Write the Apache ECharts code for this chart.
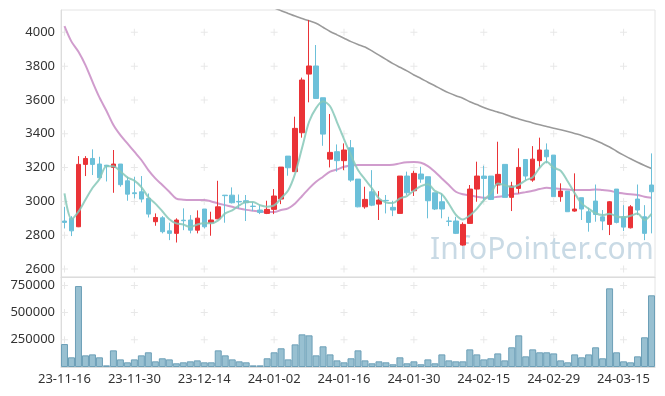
<!DOCTYPE html>
<html><head><meta charset="utf-8">
<script src="https://cdn.jsdelivr.net/npm/echarts@6/dist/echarts.min.js"></script>
<style>html,body{margin:0;padding:0;background:#fff}#c{width:665px;height:396px}</style>
</head><body><div id="c"></div>
<script>
var dates = ["23-11-16","23-11-17","23-11-20","23-11-21","23-11-22","23-11-23","23-11-24","23-11-27","23-11-28","23-11-29",
"23-11-30","23-12-01","23-12-04","23-12-05","23-12-06","23-12-07","23-12-08","23-12-11","23-12-12","23-12-13",
"23-12-14","23-12-15","23-12-18","23-12-19","23-12-20","23-12-21","23-12-22","23-12-26","23-12-27","23-12-28",
"24-01-02","24-01-03","24-01-04","24-01-05","24-01-08","24-01-09","24-01-10","24-01-11","24-01-12","24-01-15",
"24-01-16","24-01-17","24-01-18","24-01-19","24-01-22","24-01-23","24-01-24","24-01-25","24-01-26","24-01-29",
"24-01-30","24-01-31","24-02-01","24-02-02","24-02-05","24-02-06","24-02-07","24-02-08","24-02-13","24-02-14",
"24-02-15","24-02-16","24-02-19","24-02-20","24-02-21","24-02-22","24-02-23","24-02-26","24-02-27","24-02-28",
"24-02-29","24-03-04","24-03-05","24-03-06","24-03-07","24-03-08","24-03-11","24-03-12","24-03-13","24-03-14",
"24-03-15","24-03-18","24-03-19","24-03-20","24-03-21"];
var opens = [2884,2900,2850,3219,3254,3221,3214,3201,3221,3122,3051,3057,3018,2880,2903,2826,2811,2889,2890,2830,
2955,2874,2897,3037,3037,3000,3004,2972,2949,2929,2953,3014,3268,3176,3406,3753,3801,3613,3250,3294,
3241,3317,3132,2968,3057,2984,3006,2965,2929,3150,3063,3162,3146,3051,2998,2884,2884,2742,2870,3073,
3150,3150,3097,3219,3024,3077,3248,3126,3241,3304,3274,3028,3061,2943,3022,2939,3002,2909,2864,3073,
2909,2844,3014,2909,3097];
var closes = [2876,2826,3219,3254,3219,3140,3208,3221,3099,3043,3046,3014,2925,2905,2821,2811,2890,2886,2830,2901,
2850,2890,2968,3034,2992,2997,2992,2970,2935,2953,3032,3203,3199,3432,3718,3801,3609,3398,3290,3241,
3304,3126,2968,3012,2978,3008,3004,2949,3150,3051,3166,3132,3004,2955,2955,2882,2811,2864,3073,3150,
3136,3012,3160,3024,3091,3201,3150,3250,3304,3264,3028,3061,2939,2955,2955,2876,2923,2884,2998,2876,
2848,2968,2949,2811,3057];
var lows = [2840,2795,2848,3150,3156,3132,3118,3051,3087,3004,3018,2994,2905,2856,2811,2771,2757,2830,2811,2811,
2840,2797,2895,2874,2988,2959,2884,2943,2925,2925,2925,2984,3152,3176,3377,3586,3609,3329,3201,3176,
3185,3116,2965,2957,2972,2890,2929,2913,2929,3038,3032,3110,2900,2949,2900,2854,2807,2738,2870,2998,
3008,3008,3045,3024,2943,3047,3126,3116,3195,3225,3028,2998,2939,2939,2890,2821,2880,2830,2801,2870,
2825,2840,2919,2771,2811];
var highs = [2968,2913,3268,3268,3308,3264,3216,3304,3221,3146,3146,3150,3047,2929,2913,2874,2900,2959,2919,2947,
2955,2939,3122,3038,3083,3041,3038,2998,2978,3004,3073,3203,3268,3501,3732,4073,3925,3613,3517,3337,
3343,3363,3132,3087,3185,3061,3038,3004,3150,3176,3181,3205,3146,3051,3047,2909,2909,2876,3097,3235,
3211,3150,3353,3219,3116,3314,3248,3327,3377,3343,3274,3107,3061,3166,3022,2963,3100,2949,3002,3073,
2978,2978,3100,2978,3284];
var volumes = [211000,89000,744000,107000,116000,89000,15000,153000,70000,43000,70000,107000,135000,52000,80000,70000,34000,43000,52000,61000,
43000,43000,153000,107000,70000,52000,43000,15000,15000,80000,135000,172000,70000,208000,300000,291000,107000,190000,116000,61000,
43000,80000,153000,61000,34000,52000,43000,25000,89000,34000,52000,25000,70000,34000,116000,61000,52000,52000,162000,116000,
70000,80000,125000,61000,181000,291000,98000,162000,135000,135000,125000,61000,43000,116000,89000,116000,181000,80000,723000,135000,
52000,43000,98000,273000,659000];
var ma5 = [3047,2895,2940,3010,3079,3132,3208,3208,3177,3142,3123,3085,3025,2987,2942,2895,2870,2863,2848,2864,
2871,2871,2888,2929,2947,2976,2997,2997,2977,2969,2976,3019,3064,3164,3317,3471,3552,3592,3563,3468,
3368,3272,3186,3130,3078,3018,2994,2990,3018,3032,3064,3090,3101,3062,3042,2986,2921,2893,2917,2956,
3007,3047,3106,3096,3085,3098,3125,3143,3199,3234,3199,3181,3119,3049,2988,2957,2930,2919,2927,2911,
2906,2915,2928,2890,2927];
var ma20 = [4037,3945,3885,3806,3708,3615,3536,3452,3392,3343,3294,3245,3185,3136,3097,3057,3016,3010,3008,3008,
3008,3000,2988,2978,2968,2958,2950,2945,2941,2937,2937,2949,2959,2988,3032,3077,3116,3146,3176,3189,
3205,3213,3215,3215,3215,3215,3215,3217,3225,3231,3233,3229,3209,3176,3136,3097,3057,3042,3036,3028,
3022,3022,3028,3032,3042,3047,3055,3063,3073,3081,3077,3073,3071,3067,3067,3067,3071,3067,3063,3053,
3047,3042,3038,3028,3022];
var ma60 = ['-','-','-','-','-','-','-','-','-','-','-','-','-','-','-','-','-','-','-','-',
'-','-','-','-','-','-','-','-',4180,4165,4145,4128,4112,4096,4082,4068,4054,4030,4005,3985,
3965,3945,3928,3913,3890,3865,3840,3815,3793,3772,3748,3727,3705,3684,3662,3642,3625,3610,3590,3573,
3556,3540,3528,3516,3500,3488,3476,3464,3453,3443,3433,3424,3414,3402,3390,3376,3360,3342,3322,3297,
3274,3252,3232,3213,3195];
var priceTicks = [2600,2800,3000,3200,3400,3600,3800,4000];
var volumeTicks = [250000,500000,750000];
var labelEvery = 10;

var candleData = opens.map(function(o,i){return [o, closes[i], lows[i], highs[i]];});
var xTickIdx = dates.map(function(d,i){return i;}).filter(function(i){return i % labelEvery === 0;});
var crossPath = 'path://M3,0H4V3H7V4H4V7H3V4H0V3H3Z';
var priceCross = [], volCross = [];
xTickIdx.forEach(function(i){
  priceTicks.forEach(function(v){priceCross.push([i,v]);});
  volumeTicks.forEach(function(v){volCross.push([i,v]);});
});

var FONT = 'Noto Sans';
var chart = echarts.init(document.getElementById('c'), null, {renderer:'canvas'});
chart.setOption({
  animation:false,
  backgroundColor:'#fff',
  grid:[
    {left:61, right:10, top:10, height:267, show:true, borderColor:'#e4e4e4', borderWidth:1},
    {left:61, right:10, top:277, height:90, show:true, borderColor:'#e4e4e4', borderWidth:1}
  ],
  xAxis:[
    {type:'category', gridIndex:0, data:dates, boundaryGap:true,
     axisLine:{show:true, lineStyle:{color:'#dcdcdc'}}, axisTick:{show:false}, axisLabel:{show:false}, splitLine:{show:false}},
    {type:'category', gridIndex:1, data:dates, boundaryGap:true,
     axisLine:{show:true, lineStyle:{color:'#dcdcdc'}}, axisTick:{show:false},
     axisLabel:{interval:labelEvery-1, color:'#333', fontFamily:FONT, fontSize:13, margin:6}, splitLine:{show:false}}
  ],
  yAxis:[
    {type:'value', gridIndex:0, min:2553, max:4132, splitNumber:8, scale:true,
     axisLine:{show:true, lineStyle:{color:'#dcdcdc'}}, axisTick:{show:false}, splitLine:{show:false},
     axisLabel:{color:'#333', fontFamily:FONT, fontSize:13, margin:6, showMinLabel:false, showMaxLabel:false,
       formatter:function(v){return String(v);}}},
    {type:'value', gridIndex:1, min:0, max:827000, interval:250000,
     axisLine:{show:true, lineStyle:{color:'#dcdcdc'}}, axisTick:{show:false}, splitLine:{show:false},
     axisLabel:{color:'#333', fontFamily:FONT, fontSize:13, margin:6, showMinLabel:false, showMaxLabel:false,
       formatter:function(v){return String(v);}}}
  ],
  graphic:[{type:'text', left:430, top:235, z:0, silent:true,
    style:{text:'InfoPointer.com', fill:'#c9dae5', font:'30px "Noto Sans"'}}],
  series:[
    {type:'scatter', xAxisIndex:0, yAxisIndex:0, data:priceCross, symbol:crossPath, symbolSize:7,
     itemStyle:{color:'#e2e2e2'}, silent:true, z:1},
    {type:'scatter', xAxisIndex:1, yAxisIndex:1, data:volCross, symbol:crossPath, symbolSize:7,
     itemStyle:{color:'#e2e2e2'}, silent:true, z:1},
    {type:'line', xAxisIndex:0, yAxisIndex:0, data:ma60, showSymbol:false, smooth:0.3,
     lineStyle:{color:'#9a9a9a', width:1.6}, z:3, silent:true},
    {type:'line', xAxisIndex:0, yAxisIndex:0, data:ma20, showSymbol:false, smooth:0.3,
     lineStyle:{color:'#c88bc4', width:2, opacity:0.85}, z:3, silent:true},
    {type:'candlestick', xAxisIndex:0, yAxisIndex:0, data:candleData, barWidth:5, z:4,
     itemStyle:{color:'#ea3337', color0:'#6cc0d9', borderColor:'#ea3337', borderColor0:'#6cc0d9', borderWidth:1}},
    {type:'line', xAxisIndex:0, yAxisIndex:0, data:ma5, showSymbol:false, smooth:0.3,
     lineStyle:{color:'#86c8b8', width:2, opacity:0.85}, z:5, silent:true},
    {type:'bar', xAxisIndex:1, yAxisIndex:1, data:volumes, barCategoryGap:0, z:3,
     itemStyle:{color:'#98c0d1', borderColor:'#6c9fb7', borderWidth:1}}
  ]
});
</script></body></html>
